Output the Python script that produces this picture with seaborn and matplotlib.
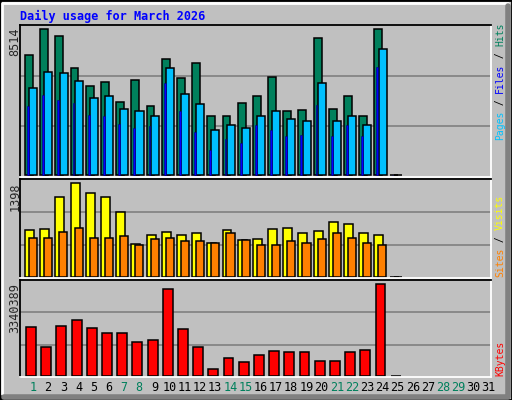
import numpy as np
import matplotlib
matplotlib.use("Agg")
import matplotlib.pyplot as plt
import seaborn as sns
from matplotlib.patches import Rectangle

days = list(range(1, 32))
hits = [7010, 8514, 8110, 6260, 5210, 5440, 4290, 5560, 4050, 6780, 5680, 6540,
        3420, 3470, 4230, 4630, 5730, 3760, 3820, 7990, 3880, 4630, 3420, 8514, 0]
files = [5100, 6020, 5960, 5500, 4520, 4630, 3880, 3760, 3470, 6260, 4750, 4170,
         2660, 2900, 2720, 3470, 3710, 3300, 3130, 5390, 3130, 3420, 2900, 7360, 0]
pages = [4050, 4690, 4400, 4230, 3530, 3470, 3010, 2720, 2840, 5390, 3760, 2490,
         1450, 2080, 1850, 2900, 2660, 2260, 2320, 4110, 2260, 2900, 2260, 6310, 0]
visits = [690, 705, 1190, 1398, 1250, 1190, 960, 480, 615, 660, 615, 645,
          495, 690, 540, 555, 705, 720, 645, 675, 810, 780, 645, 615, 0]
sites = [570, 570, 660, 720, 570, 570, 600, 465, 555, 570, 525, 525,
         495, 645, 541, 465, 465, 525, 495, 555, 645, 570, 495, 465, 0]
kbytes = [1780000, 1050000, 1820000, 2030000, 1740000, 1560000, 1560000, 1230000,
          1310000, 3160000, 1710000, 1050000, 250000, 650000, 510000, 760000,
          910000, 870000, 870000, 540000, 540000, 870000, 940000, 3340389, 0]
weekend = [1, 7, 8, 14, 15, 21, 22, 28, 29]

C_HITS, C_FILES, C_PAGES = "#00805C", "#00C0FF", "#0000FF"
C_VISITS, C_SITES, C_KB = "#FFFF00", "#FF8000", "#FF0000"
BG = "#C0C0C0"
MONO = "DejaVu Sans Mono"

sns.set_style("white")
plt.rcParams["font.family"] = MONO

W, H = 512, 400
fig = plt.figure(figsize=(W / 100, H / 100), dpi=100)
fig.patch.set_facecolor(BG)

# bevelled frame
fig.add_artist(Rectangle((0, 0), 1, 1, transform=fig.transFigure, fill=False, ec="black", lw=2))
fig.add_artist(plt.Line2D([2 / W, 2 / W, 1 - 4 / W], [6 / H, 1 - 3 / H, 1 - 3 / H], transform=fig.transFigure, color="white", lw=2))
fig.add_artist(plt.Line2D([4 / W, 1 - 4 / W, 1 - 4 / W], [3 / H, 3 / H, 1 - 6 / H], transform=fig.transFigure, color="#808080", lw=4))


def make_ax(top_px, bot_px):
    ax = fig.add_axes([20 / W, 1 - bot_px / H, 471 / W, (bot_px - top_px) / H])
    ax.set_facecolor(BG)
    ax.set_xlim(0, 31)
    for s in ["left", "top"]:
        ax.spines[s].set_color("black")
        ax.spines[s].set_linewidth(1.3)
    for s in ["right", "bottom"]:
        ax.spines[s].set_color("white")
        ax.spines[s].set_linewidth(1.3)
    ax.set_xticks([])
    ax.set_yticks([])
    return ax


def grid(ax, ymax):
    for f in (0.325, 0.66):
        ax.axhline(f * ymax, color="#808080", lw=1.2, zorder=0)


n = len(hits)
x0 = np.arange(n)
kw = dict(edgecolor="black", linewidth=1.1, align="edge", zorder=2)

ax1 = make_ax(25, 177)
ymax1 = max(hits) * 151 / 147
ax1.set_ylim(-ymax1 * 0.012, ymax1)
grid(ax1, ymax1)
ax1.bar(x0 + 0.33, hits, width=0.52, color=C_HITS, **kw)
ax1.bar(x0 + 0.6, files, width=0.53, color=C_FILES, **kw)
ax1.bar(x0 + 0.46, pages, width=0.12, color=C_PAGES, edgecolor="#000080", linewidth=0.4, align="edge", zorder=3)

ax2 = make_ax(179, 278)
ymax2 = max(visits) * 97 / 93
ax2.set_ylim(-ymax2 * 0.015, ymax2)
grid(ax2, ymax2)
ax2.bar(x0 + 0.33, visits, width=0.59, color=C_VISITS, **kw)
ax2.bar(x0 + 0.59, sites, width=0.53, color=C_SITES, **kw)

ax3 = make_ax(280, 377)
ymax3 = max(kbytes) * 96 / 92
ax3.set_ylim(-ymax3 * 0.015, ymax3)
grid(ax3, ymax3)
ax3.bar(x0 + 0.4, kbytes, width=0.65, color=C_KB, **kw)

for d in days:
    ax3.text(d - 1 + 0.85, -0.04, str(d), transform=ax3.transAxes if False else ax3.get_xaxis_transform(),
             ha="center", va="top", fontsize=8.5,
             color=C_HITS if d in weekend else "black")

fig.text(20 / W, 1 - 16 / H, "Daily usage for March 2026", color="#0000FF",
         fontsize=8.5, fontweight="bold", va="center", ha="left")

for txt, ytop in [(str(max(hits)), 27), (str(max(visits)), 182), (str(max(kbytes)), 283)]:
    fig.text(15 / W, 1 - ytop / H, txt, rotation=90, ha="center", va="top", fontsize=8.5)


def side_label(parts, ybot, fs=7):
    cw = 0.602 * fs * 100 / 72
    y = ybot
    for txt, col in parts:
        fig.text(500 / W, 1 - y / H, txt, rotation=90, ha="center", va="bottom",
                 fontsize=fs, color=col)
        y -= cw * len(txt)


side_label([("Pages", C_FILES), (" / ", "black"), ("Files", C_PAGES),
            (" / ", "black"), ("Hits", C_HITS)], 140)
side_label([("Sites", C_SITES), (" / ", "black"), ("Visits", C_VISITS)], 277)
side_label([("KBytes", C_KB)], 376)

fig.savefig("out.png", dpi=100, facecolor=BG)
